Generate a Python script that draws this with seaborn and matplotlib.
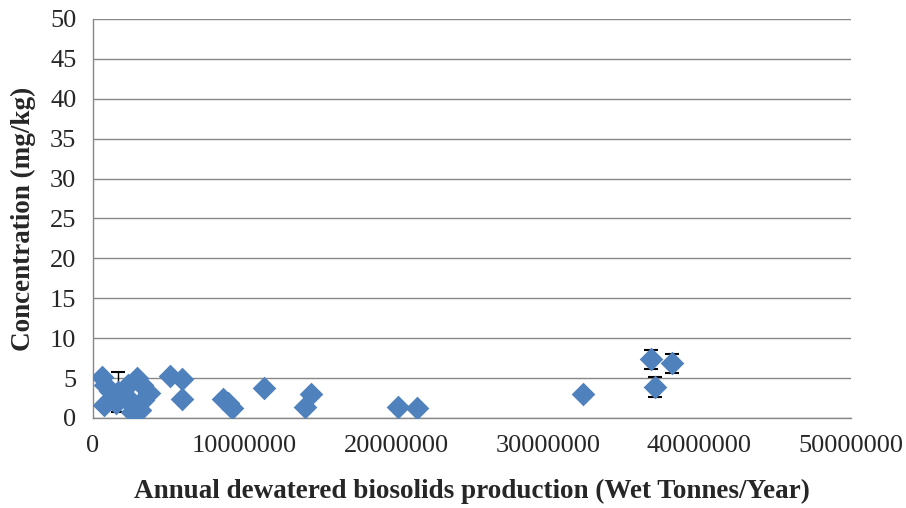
import matplotlib
matplotlib.use("Agg")
import matplotlib.pyplot as plt
import seaborn as sns
import numpy as np
import pandas as pd

production = [600000, 800000, 730000, 1100000, 1250000, 1650000, 2100000, 2300000,
              2900000, 3200000, 3700000, 2700000, 2600000, 3100000, 3300000, 1500000,
              5100000, 5900000, 5900000, 8600000, 8900000, 9200000, 11300000,
              14000000, 14400000, 20100000, 21400000, 32300000, 36800000, 37100000, 38200000]
concentration = [5.1, 4.1, 1.6, 3.4, 2.5, 3.3, 2.9, 4.1,
                 5.0, 4.1, 3.1, 1.4, 0.75, 1.0, 2.3, 1.9,
                 5.3, 4.9, 2.4, 2.4, 1.9, 1.3, 3.8,
                 1.4, 3.0, 1.4, 1.25, 3.0, 7.35, 3.9, 6.85]
error = [0, 0, 0, 0, 0, 2.5, 0, 0,
         0, 0, 0, 0, 0, 0, 0, 0,
         0, 0, 0, 0, 0, 0, 0,
         0, 0, 0, 0, 0, 1.15, 1.25, 1.15]
x_ticks = [0, 10000000, 20000000, 30000000, 40000000, 50000000]
y_ticks = [0, 5, 10, 15, 20, 25, 30, 35, 40, 45, 50]

df = pd.DataFrame({"production": production, "concentration": concentration, "error": error})

sns.set_style("white")
plt.rcParams['font.family'] = ['Liberation Serif', 'DejaVu Serif']

fig = plt.figure(figsize=(9.06, 5.08), dpi=100)
ax = fig.add_axes([93/906, 1 - 418/508, (851-93)/906, (418-19)/508])

color = "#4F81BD"
eb = df[df["error"] > 0]
ax.errorbar(eb["production"], eb["concentration"], yerr=eb["error"], fmt="none",
            ecolor="black", elinewidth=1, capsize=5, capthick=1.5, zorder=2)
sns.scatterplot(data=df, x="production", y="concentration", marker="D", s=145,
                color=color, edgecolor=color, linewidth=0, ax=ax, zorder=3)

ax.set_xlim(0, 50000000)
ax.set_ylim(0, 50)
ax.set_xticks(x_ticks)
ax.set_xticklabels([str(v) for v in x_ticks])
ax.set_yticks(y_ticks)
ax.set_yticklabels([str(v) for v in y_ticks])
ax.grid(axis="y", color="#888888", linewidth=1)
ax.set_axisbelow(True)
for side in ["top", "right"]:
    ax.spines[side].set_visible(False)
for side in ["left", "bottom"]:
    ax.spines[side].set_color("#888888")
    ax.spines[side].set_linewidth(1)
ax.tick_params(axis="both", direction="out", length=6, color="#888888", labelsize=19, width=1)
ax.tick_params(axis="x", pad=6)
ax.tick_params(axis="y", pad=6)
ax.set_xlabel("Annual dewatered biosolids production (Wet Tonnes/Year)", fontsize=19.5,
              fontweight="bold", labelpad=16)
ax.set_ylabel("Concentration (mg/kg)", fontsize=19.5, fontweight="bold", labelpad=10)

fig.savefig("out.png", dpi=100)
